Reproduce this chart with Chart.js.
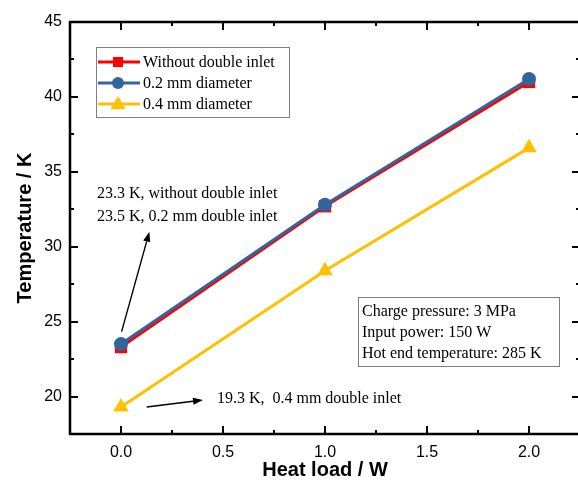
<!DOCTYPE html>
<html>
<head>
<meta charset="utf-8">
<script src="https://cdn.jsdelivr.net/npm/chart.js@4"></script>
<style>
  html, body { margin: 0; padding: 0; background: #fff; overflow: hidden; }
  #wrap { width: 600px; height: 482px; }
</style>
</head>
<body>
<div id="wrap"><canvas id="chart" width="600" height="482"></canvas></div>
<script>
// Heat load (W) against cold end temperature (K)
const heatLoad = [0, 1, 2];
const withoutInlet = [23.3, 32.7, 41.0];
const inlet02 = [23.5, 32.8, 41.2];
const inlet04 = [19.3, 28.4, 36.6];

const seriesNames = ['Without double inlet', '0.2 mm diameter', '0.4 mm diameter'];
const xTicks = [0, 0.5, 1, 1.5, 2];
const yTicks = [20, 25, 30, 35, 40, 45];

const RED = '#ff0000';
const BLUE = '#33649e';
const YELLOW = '#ffc000';

const SANS = '"Liberation Sans", Arial, sans-serif';
const SERIF = '"Liberation Serif", "Times New Roman", serif';

// plot frame in canvas pixels (right edge runs just past the page)
const AREA = { left: 70, top: 22, right: 580, bottom: 434 };

const infoLines = ['Charge pressure: 3 MPa', 'Input power: 150 W', 'Hot end temperature: 285 K'];

// Callout text and arrows, anchored in data units
const callouts = [
    { text: '23.3 K, without double inlet', x: -0.118, y: 33.5 },
    { text: '23.5 K, 0.2 mm double inlet', x: -0.118, y: 31.98 },
    { text: '19.3 K,  0.4 mm double inlet', x: 0.47, y: 19.87 }
];
const arrows = [
    { from: [0.003, 24.33], to: [0.139, 31.0] },
    { from: [0.126, 19.3], to: [0.402, 19.77] }
];

function drawArrow(ctx, x1, y1, x2, y2) {
    const ang = Math.atan2(y2 - y1, x2 - x1);
    const head = 10, half = 3.6;
    const bx = x2 - head * Math.cos(ang), by = y2 - head * Math.sin(ang);
    ctx.beginPath();
    ctx.moveTo(x1, y1);
    ctx.lineTo(bx, by);
    ctx.strokeStyle = '#000';
    ctx.lineWidth = 1.4;
    ctx.stroke();
    ctx.beginPath();
    ctx.moveTo(x2, y2);
    ctx.lineTo(bx + half * Math.sin(ang), by - half * Math.cos(ang));
    ctx.lineTo(bx - half * Math.sin(ang), by + half * Math.cos(ang));
    ctx.closePath();
    ctx.fillStyle = '#000';
    ctx.fill();
}

function drawMarker(ctx, style, x, y, r, color) {
    ctx.fillStyle = color;
    ctx.beginPath();
    if (style === 'rect') {
        ctx.rect(x - r, y - r, 2 * r, 2 * r);
    } else if (style === 'circle') {
        ctx.arc(x, y, r, 0, Math.PI * 2);
    } else {
        ctx.moveTo(x, y - r);
        ctx.lineTo(x + r * 0.95, y + r * 0.65);
        ctx.lineTo(x - r * 0.95, y + r * 0.65);
        ctx.closePath();
    }
    ctx.fill();
}

// Frame, inward ticks, axis titles, legend and notes
const decorations = {
    id: 'decorations',
    afterDraw(chart) {
        const { ctx, chartArea: a, scales: { x, y } } = chart;
        ctx.save();

        // frame
        ctx.strokeStyle = '#000';
        ctx.lineWidth = 2.5;
        ctx.strokeRect(a.left, a.top, a.right - a.left, a.bottom - a.top);

        // ticks on all four sides, pointing inward
        ctx.lineWidth = 2;
        ctx.beginPath();
        for (let v = -0.25; v <= 2.25001; v += 0.25) {
            const px = Math.round(x.getPixelForValue(v));
            const len = Math.abs(v * 2 - Math.round(v * 2)) < 1e-6 ? 8 : 4;
            ctx.moveTo(px, a.bottom); ctx.lineTo(px, a.bottom - len);
            ctx.moveTo(px, a.top); ctx.lineTo(px, a.top + len);
        }
        for (let v = 17.5; v <= 45.001; v += 2.5) {
            const py = Math.round(y.getPixelForValue(v));
            const len = v % 5 === 0 ? 8 : 4;
            ctx.moveTo(a.left, py); ctx.lineTo(a.left + len, py);
            ctx.moveTo(a.right, py); ctx.lineTo(a.right - len, py);
        }
        ctx.stroke();

        // axis titles
        ctx.fillStyle = '#000';
        ctx.font = 'bold 20px ' + SANS;
        ctx.textAlign = 'center';
        ctx.textBaseline = 'middle';
        ctx.fillText('Heat load / W', x.getPixelForValue(1), 470);
        ctx.save();
        ctx.translate(25, (a.top + a.bottom) / 2);
        ctx.rotate(-Math.PI / 2);
        ctx.fillText('Temperature / K', 0, 0);
        ctx.restore();

        // legend
        const lx = 96, ly = 47;
        ctx.lineWidth = 1;
        ctx.strokeStyle = '#808080';
        ctx.strokeRect(lx + 0.5, ly + 0.5, 193, 70);
        ctx.font = '16px ' + SERIF;
        ctx.textAlign = 'left';
        chart.data.datasets.forEach((ds, i) => {
            const rowY = ly + 15 + i * 21;
            ctx.strokeStyle = ds.borderColor;
            ctx.lineWidth = 3;
            ctx.beginPath();
            ctx.moveTo(lx + 2, rowY);
            ctx.lineTo(lx + 44, rowY);
            ctx.stroke();
            const r = ds.pointStyle === 'rect' ? 5 : ds.pointStyle === 'circle' ? 6 : 8;
            drawMarker(ctx, ds.pointStyle, lx + 22, rowY, r, ds.borderColor);
            ctx.fillStyle = '#000';
            ctx.fillText(ds.label, lx + 47, rowY + 1);
        });

        // operating conditions box
        const bx = 358, by = 297;
        ctx.strokeStyle = '#808080';
        ctx.lineWidth = 1;
        ctx.strokeRect(bx + 0.5, by + 0.5, 201, 69);
        ctx.fillStyle = '#000';
        infoLines.forEach((t, i) => ctx.fillText(t, bx + 4, by + 15 + i * 21));

        // callouts
        callouts.forEach(c => ctx.fillText(c.text, x.getPixelForValue(c.x), y.getPixelForValue(c.y)));
        arrows.forEach(ar => drawArrow(ctx,
            x.getPixelForValue(ar.from[0]), y.getPixelForValue(ar.from[1]),
            x.getPixelForValue(ar.to[0]), y.getPixelForValue(ar.to[1])));

        ctx.restore();
    }
};

function series(label, values, color, style, radius, order) {
    return {
        label: label,
        data: heatLoad.map((h, i) => ({ x: h, y: values[i] })),
        borderColor: color,
        backgroundColor: color,
        borderWidth: 3,
        pointStyle: style,
        pointRadius: radius,
        pointBorderWidth: 0,
        pointBackgroundColor: color,
        order: order
    };
}

// scales keep a fixed size and don't reserve room for overhanging labels
function fixBox(size) {
    return s => {
        if (s.isHorizontal()) s.height = size; else s.width = size;
        s.paddingLeft = s.paddingRight = s.paddingTop = s.paddingBottom = 0;
    };
}

const chart = new Chart(document.getElementById('chart'), {
    type: 'line',
    data: {
        datasets: [
            series(seriesNames[0], withoutInlet, RED, 'rect', 8.7, 1),
            series(seriesNames[1], inlet02, BLUE, 'circle', 7, 0),
            series(seriesNames[2], inlet04, YELLOW, 'triangle', 9, 2)
        ]
    },
    options: {
        responsive: false,
        animation: false,
        events: [],
        layout: { padding: { left: 0, right: 14, top: 22, bottom: 0 } },
        plugins: { legend: { display: false }, tooltip: { enabled: false } },
        scales: {
            x: {
                type: 'linear',
                min: -0.25,
                max: 2.25,
                grid: { display: false, drawTicks: false },
                border: { display: false },
                afterBuildTicks: s => { s.ticks = xTicks.map(v => ({ value: v })); },
                afterFit: fixBox(48),
                ticks: {
                    padding: 9,
                    color: '#000',
                    font: { family: SANS, size: 16 },
                    maxRotation: 0,
                    callback: v => v.toFixed(1)
                }
            },
            y: {
                type: 'linear',
                min: 17.5,
                max: 45,
                grid: { display: false, drawTicks: false },
                border: { display: false },
                afterBuildTicks: s => { s.ticks = yTicks.map(v => ({ value: v })); },
                afterFit: fixBox(70),
                ticks: {
                    padding: 8,
                    color: '#000',
                    font: { family: SANS, size: 16 }
                }
            }
        }
    },
    plugins: [decorations]
});

// nudge the layout padding until the plot frame sits where it should
for (let i = 0; i < 5; i++) {
    const a = chart.chartArea;
    const dr = AREA.right - a.right, dt = AREA.top - a.top, db = AREA.bottom - a.bottom;
    if (Math.abs(dr) < 0.5 && Math.abs(dt) < 0.5 && Math.abs(db) < 0.5) break;
    const pad = { ...chart.config.options.layout.padding };
    pad.right = Math.max(0, pad.right - dr);
    pad.top = Math.max(0, pad.top + dt);
    pad.bottom = Math.max(0, pad.bottom - db);
    chart.config.options.layout.padding = pad;
    chart.update();
}
</script>
</body>
</html>
